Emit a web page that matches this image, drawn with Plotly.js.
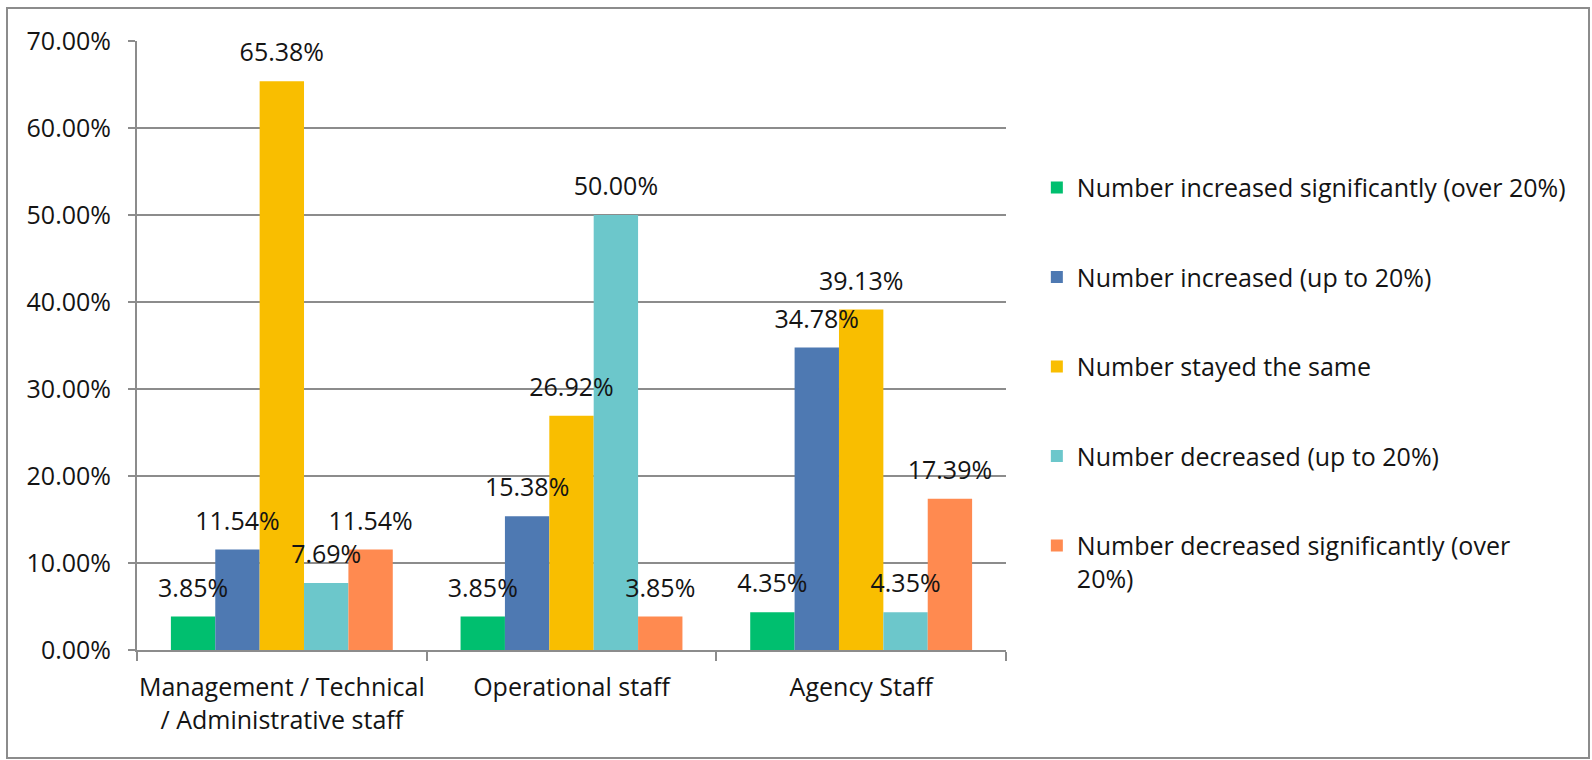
<!DOCTYPE html>
<html>
<head>
<meta charset="utf-8">
<script src="https://cdn.plot.ly/plotly-3.0.1.min.js"></script>
<style>
  html, body { margin: 0; padding: 0; background: #ffffff; }
  #chart { width: 1592px; height: 760px; }
</style>
</head>
<body>
<div id="chart"></div>
<script>
// ---- data ----
const categories = ['Management / Technical<br>/ Administrative staff', 'Operational staff', 'Agency Staff'];
const seriesNames = [
  'Number increased significantly (over 20%)',
  'Number increased (up to 20%)',
  'Number stayed the same',
  'Number decreased (up to 20%)',
  'Number decreased significantly (over<br>20%)'
];
const increasedSignificantly = [0.0385, 0.0385, 0.0435];
const increased = [0.1154, 0.1538, 0.3478];
const stayedSame = [0.6538, 0.2692, 0.3913];
const decreased = [0.0769, 0.5000, 0.0435];
const decreasedSignificantly = [0.1154, 0.0385, 0.1739];
const yTickValues = [0, 0.1, 0.2, 0.3, 0.4, 0.5, 0.6, 0.7];

// ---- styles ----
const colors = ['#00BF6F', '#4E79B2', '#F9BE00', '#6CC7CB', '#FF8A50'];
const FONT = 'Open Sans, Lato, sans-serif';
const TXT = '#141414';
const GRID = '#8c8c8c';
const GAP = 0.234;

const allSeries = [increasedSignificantly, increased, stayedSame, decreased, decreasedSignificantly];

const traces = [];
allSeries.forEach((vals, i) => {
  traces.push({
    type: 'bar',
    name: seriesNames[i],
    x: categories,
    y: vals,
    marker: { color: colors[i], line: { width: 0 } },
    legendgroup: 'g' + i,
    hoverinfo: 'skip'
  });
});
allSeries.forEach((vals, i) => {
  traces.push({
    type: 'scatter',
    mode: 'markers+text',
    orientation: 'v',
    x: categories,
    y: vals,
    texttemplate: '%{y:.2%}',
    textposition: 'top center',
    textfont: { family: FONT, size: 25, color: TXT },
    marker: { size: 20, opacity: 0, color: colors[i] },
    showlegend: false,
    legendgroup: 'g' + i,
    hoverinfo: 'skip',
    cliponaxis: false
  });
});

const layout = {
  width: 1592,
  height: 760,
  paper_bgcolor: '#ffffff',
  plot_bgcolor: '#ffffff',
  font: { family: FONT, size: 25, color: TXT },
  margin: { l: 137, r: 586, t: 41, b: 110, autoexpand: false },
  barmode: 'group',
  bargap: GAP,
  bargroupgap: 0,
  scattermode: 'group',
  scattergap: GAP,
  showlegend: true,
  legend: {
    x: 1.0355, xanchor: 'left',
    y: 0.797, yanchor: 'top',
    font: { family: FONT, size: 25, color: TXT },
    tracegroupgap: 54,
    itemwidth: 30,
    valign: 'top',
    bgcolor: 'rgba(0,0,0,0)',
    traceorder: 'grouped'
  },
  xaxis: {
    type: 'category',
    showgrid: false,
    showline: true,
    linecolor: GRID,
    linewidth: 2,
    ticks: 'outside',
    tickson: 'boundaries',
    ticklen: 9,
    tickwidth: 2,
    tickcolor: GRID,
    tickangle: 0,
    ticklabelstandoff: 14,
    tickfont: { family: FONT, size: 25, color: TXT },
    fixedrange: true
  },
  yaxis: {
    range: [0, 0.7],
    tickvals: yTickValues,
    tickformat: '.2%',
    showgrid: true,
    gridcolor: GRID,
    gridwidth: 2,
    zeroline: false,
    showline: true,
    linecolor: GRID,
    linewidth: 2,
    ticks: 'outside',
    ticklen: 7,
    tickwidth: 2,
    tickcolor: GRID,
    ticklabelstandoff: 12,
    tickfont: { family: FONT, size: 25, color: TXT },
    fixedrange: true
  },
  shapes: [{
    type: 'rect',
    xref: 'paper', yref: 'paper',
    x0: -0.1496, x1: 1.6709, y0: -0.1773, y1: 1.0542,
    line: { color: GRID, width: 2 },
    fillcolor: 'rgba(0,0,0,0)',
    layer: 'below'
  }]
};

Plotly.newPlot('chart', traces, layout, { displayModeBar: false, staticPlot: true });
</script>
</body>
</html>
